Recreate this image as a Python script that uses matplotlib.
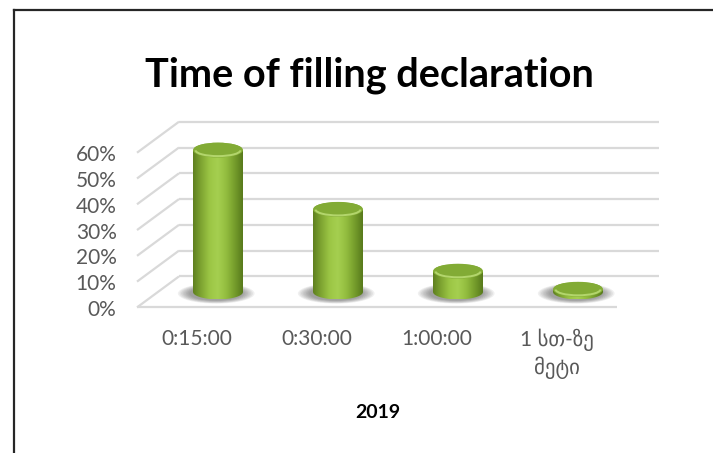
import numpy as np
import matplotlib
matplotlib.use("Agg")
import matplotlib.pyplot as plt
from matplotlib.patches import Ellipse, PathPatch, Arc
from matplotlib.path import Path
from matplotlib.lines import Line2D
from matplotlib.colors import LinearSegmentedColormap

# ---- data ----
categories = ["0:15:00", "0:30:00", "1:00:00", "1 სთ-ზე\nმეტი"]
values = [55, 32, 8, 1]          # percent
y_ticks = [0, 10, 20, 30, 40, 50, 60]
y_tick_labels = ["0%", "10%", "20%", "30%", "40%", "50%", "60%"]
title = "Time of filling declaration"
x_title = "2019"

# ---- layout (pixels) ----
W, H = 713, 453
X0_PX = 158.0      # mid-depth left edge of category slot -0.5
SLOT_PX = 120.0    # pixels per category
Y0_PX = 291.9      # mid-depth 0% (from top)
PCT_PX = 2.578     # pixels per percent
DX = 21.0 / SLOT_PX   # half depth offset in category units
DY = 15.5 / PCT_PX    # half depth offset in percent units

fig = plt.figure(figsize=(W / 100, H / 100), dpi=100)
fig.patch.set_facecolor("white")
ax = fig.add_axes([0, 0, 1, 1])
ax.set_axis_off()
xlim = (-0.5 - X0_PX / SLOT_PX, -0.5 + (W - X0_PX) / SLOT_PX)
ylim = (-(H - Y0_PX) / PCT_PX, Y0_PX / PCT_PX)

grid_c = "#d9d9d9"
n = len(categories)
x_left = -0.5
x_right = n - 0.5
# back wall gridlines
for v in y_ticks:
    ax.plot([x_left + DX, x_right + DX], [v + DY, v + DY], color=grid_c, lw=1.6,
            solid_capstyle="butt", zorder=1)
    # left (side) wall diagonals
    ax.plot([x_left - DX, x_left + DX], [v - DY, v + DY], color=grid_c, lw=1.6,
            solid_capstyle="butt", zorder=1)
# floor front edge
ax.plot([x_left - DX, x_right - DX], [-DY, -DY], color=grid_c, lw=1.6,
        solid_capstyle="butt", zorder=1)

# ---- cylinders ----
body_cmap = LinearSegmentedColormap.from_list(
    "cyl", ["#5f8020", "#7fa632", "#9cc645", "#a5cf50", "#93bd3f", "#769e2c", "#587a1c"])
r = 25.0 / SLOT_PX          # half width of cylinder
e = 7.5 / PCT_PX            # half height of ellipse

for i, v in enumerate(values):
    xc = i
    # soft shadow on the floor
    for k in range(8):
        s = 1 + 0.06 * k
        sh = Ellipse((xc - 0.015, -0.6), 2 * r * 1.08 * s, 2 * e * 0.95 * s,
                     facecolor="#3a3a3a", edgecolor="none", alpha=0.075, zorder=2)
        ax.add_patch(sh)
    # body path
    theta = np.linspace(np.pi, 2 * np.pi, 40)
    bx = xc + r * np.cos(theta)
    by = e * np.sin(theta)
    verts = [(xc - r, v)] + list(zip(bx, by)) + [(xc + r, v), (xc - r, v)]
    codes = [Path.MOVETO] + [Path.LINETO] * (len(verts) - 2) + [Path.CLOSEPOLY]
    body = PathPatch(Path(verts, codes), facecolor="none", edgecolor="none", zorder=3)
    ax.add_patch(body)
    grad = np.linspace(0, 1, 200).reshape(1, -1)
    im = ax.imshow(grad, cmap=body_cmap, extent=(xc - r, xc + r, -e, v + e),
                   aspect="auto", interpolation="bicubic", zorder=3)
    im.set_clip_path(body)
    # top ellipse
    top = Ellipse((xc, v), 2 * r, 2 * e, facecolor="#86af38", edgecolor="none", zorder=4)
    ax.add_patch(top)
    inner = Ellipse((xc, v + e * 0.12), 2 * r * 0.97, 2 * e * 0.86,
                    facecolor="#82ab35", edgecolor="none", zorder=4)
    ax.add_patch(inner)
    rim = Arc((xc, v), 2 * r * 0.9, 2 * e * 0.8, theta1=200, theta2=340,
              color="#bfe07a", lw=1.4, alpha=0.8, zorder=5)
    ax.add_patch(rim)

ax.set_xlim(*xlim)
ax.set_ylim(*ylim)

# ---- text ----
lab_c = "#595959"
for v, t in zip(y_ticks, y_tick_labels):
    ax.text(x_left - DX - 0.17, v - DY - 1.0, t, ha="right", va="center",
            fontsize=15, color=lab_c, family=["Lato", "DejaVu Sans"])
for i, c in enumerate(categories):
    ax.text(i - DX, -DY - 8.2, c, ha="center", va="top", fontsize=15,
            color=lab_c, family=["Lato", "DejaVu Sans"], linespacing=1.35)

fig.text(369 / W, 1 - 75 / H, title, ha="center", va="center", fontsize=28.5,
         fontweight="bold", family=["Lato", "DejaVu Sans"], color="black")
fig.text(378 / W, 1 - 413 / H, x_title, ha="center", va="center", fontsize=14,
         fontweight="bold", family=["Lato", "DejaVu Sans"], color="black")

# frame
fig.add_artist(Line2D([14 / W, 14 / W], [0, 1 - 10 / H], color="#262626", lw=1.6))
fig.add_artist(Line2D([14 / W, 1], [1 - 10 / H, 1 - 10 / H], color="#262626", lw=1.6))

fig.savefig("out.png", dpi=100)
